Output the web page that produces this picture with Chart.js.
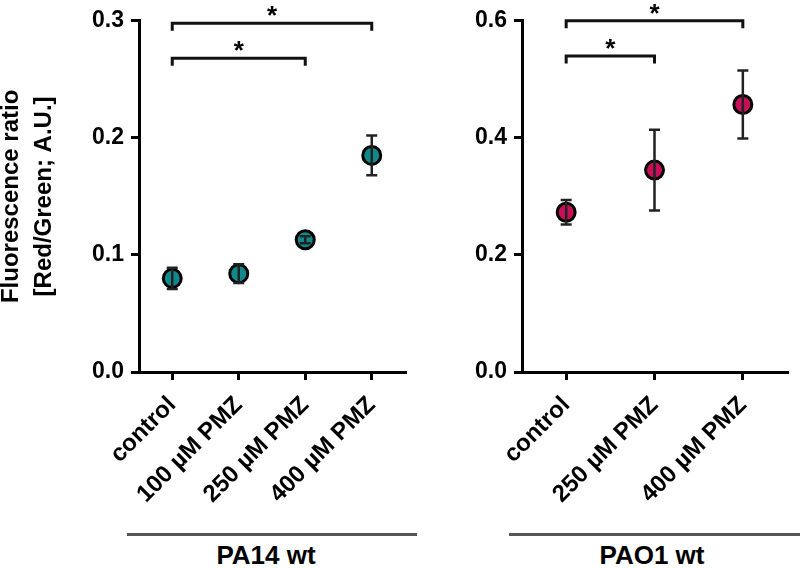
<!DOCTYPE html>
<html>
<head>
<meta charset="utf-8">
<script src="https://cdn.jsdelivr.net/npm/chart.js@4"></script>
<style>
  body { margin: 0; background: #fff; width: 800px; height: 568px; position: relative; overflow: hidden;
         font-family: "Liberation Sans", Arial, sans-serif; }
  #cLeft { position: absolute; left: -5px; top: 0; }
  #cRight { position: absolute; left: 420px; top: 0; }
  .group { position: absolute; top: 533px; height: 3px; background: #555; }
  .glabel { position: absolute; top: 542px; font-weight: bold; font-size: 26px; line-height: 26px;
            text-align: center; color: #000; }
</style>
</head>
<body>
<canvas id="cLeft" width="425" height="530"></canvas>
<canvas id="cRight" width="380" height="530"></canvas>
<div class="group" style="left:127px;width:290px"></div>
<div class="group" style="left:509px;width:291px"></div>
<div class="glabel" style="left:166px;width:200px">PA14 wt</div>
<div class="glabel" style="left:552px;width:200px">PAO1 wt</div>
<script>
// PA14 wt panel
const pa14Labels = ["control", "100 µM PMZ", "250 µM PMZ", "400 µM PMZ"];
const pa14Means = [0.080, 0.084, 0.113, 0.185];
const pa14Err = [0.009, 0.008, 0.003, 0.017];
const pa14Brackets = [[0, 3, 0.298], [0, 2, 0.268]]; // from, to, height

// PAO1 wt panel
const pao1Labels = ["control", "250 µM PMZ", "400 µM PMZ"];
const pao1Means = [0.273, 0.345, 0.457];
const pao1Err = [0.021, 0.069, 0.058];
const pao1Brackets = [[0, 2, 0.600], [0, 1, 0.540]];

const FONT = "'Liberation Sans', Arial, sans-serif";

// error bars on top of the markers
const errorBars = {
  id: "errorBars",
  afterDatasetsDraw(chart, args, opts) {
    const { ctx, scales: { x, y } } = chart;
    ctx.save();
    ctx.strokeStyle = "#222";
    ctx.lineWidth = 2.5;
    opts.means.forEach((m, i) => {
      const px = x.getPixelForValue(i);
      const yt = y.getPixelForValue(m + opts.err[i]);
      const yb = y.getPixelForValue(m - opts.err[i]);
      ctx.beginPath();
      ctx.moveTo(px, yt); ctx.lineTo(px, yb);
      ctx.moveTo(px - 5.5, yt); ctx.lineTo(px + 5.5, yt);
      ctx.moveTo(px - 5.5, yb); ctx.lineTo(px + 5.5, yb);
      ctx.stroke();
    });
    ctx.restore();
  }
};

// significance brackets with stars
const brackets = {
  id: "brackets",
  afterDraw(chart, args, opts) {
    const { ctx, scales: { x, y } } = chart;
    ctx.save();
    ctx.strokeStyle = "#111";
    ctx.fillStyle = "#000";
    ctx.lineWidth = 3;
    ctx.font = "bold 26px " + FONT;
    ctx.textAlign = "center";
    ctx.textBaseline = "alphabetic";
    for (const [a, b, v] of opts.list) {
      const x1 = x.getPixelForValue(a), x2 = x.getPixelForValue(b);
      const yy = y.getPixelForValue(v);
      ctx.beginPath();
      ctx.moveTo(x1, yy + 7.5); ctx.lineTo(x1, yy); ctx.lineTo(x2, yy); ctx.lineTo(x2, yy + 7.5);
      ctx.stroke();
      ctx.fillText("*", (x1 + x2) / 2, yy + 1);
    }
    ctx.restore();
  }
};

function makePanel(canvas, labels, means, err, color, yMax, yStep, list, yWidth, padRight, title) {
  return new Chart(canvas, {
    type: "line",
    data: {
      labels: labels,
      datasets: [{
        data: means,
        showLine: false,
        pointRadius: 9,
        pointBorderWidth: 3,
        pointBorderColor: "#000",
        pointBackgroundColor: color
      }]
    },
    plugins: [errorBars, brackets],
    options: {
      responsive: false,
      animation: false,
      events: [],
      devicePixelRatio: 1,
      layout: { padding: { top: 20, right: padRight, left: 0, bottom: 0 } },
      plugins: {
        legend: { display: false },
        tooltip: { enabled: false },
        errorBars: { means: means, err: err },
        brackets: { list: list }
      },
      scales: {
        x: {
          offset: true,
          afterFit(s) { s.height = 158; },
          grid: { display: true, drawOnChartArea: false, drawTicks: true, tickLength: 8, color: "#000", lineWidth: 3, offset: false },
          border: { display: true, color: "#000", width: 3 },
          ticks: {
            autoSkip: false, minRotation: 45, maxRotation: 45, padding: 11,
            color: "#000", font: { family: FONT, size: 24, weight: "bold" }
          }
        },
        y: {
          min: 0, max: yMax,
          afterFit(s) { s.width = yWidth; },
          grid: { display: true, drawOnChartArea: false, drawTicks: true, tickLength: 8, color: "#000", lineWidth: 3 },
          border: { display: true, color: "#000", width: 3 },
          ticks: {
            stepSize: yStep, padding: 7, color: "#000",
            font: { family: FONT, size: 23, weight: "bold" },
            callback: v => Number(v).toFixed(1)
          },
          title: title ? {
            display: true,
            text: title,
            color: "#000",
            padding: 0,
            font: { family: FONT, size: 24, weight: "bold", lineHeight: 1.375 }
          } : { display: false }
        }
      }
    }
  });
}

makePanel(document.querySelector("#cLeft"), pa14Labels, pa14Means, pa14Err, "#11898b", 0.3, 0.1,
  pa14Brackets, 144, 15, ["Fluorescence ratio", "[Red/Green; A.U.]"]);
makePanel(document.querySelector("#cRight"), pao1Labels, pao1Means, pao1Err, "#c90f5a", 0.6, 0.2,
  pao1Brackets, 102, 13, null);
</script>
</body>
</html>
